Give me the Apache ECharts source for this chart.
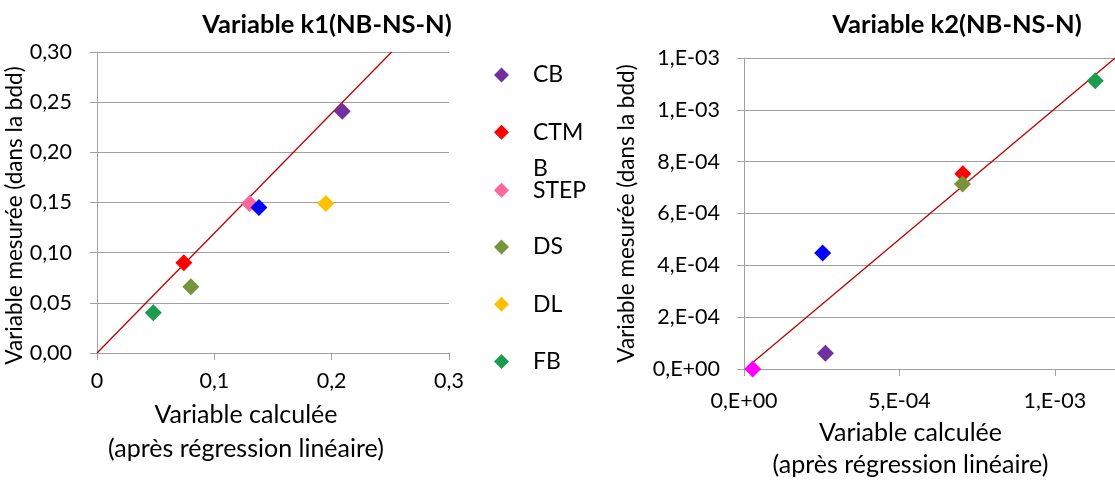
<!DOCTYPE html>
<html>
<head>
<meta charset="utf-8">
<script src="https://cdn.jsdelivr.net/npm/echarts@6/dist/echarts.min.js"></script>
<style>
  html, body { margin: 0; padding: 0; background: #ffffff; }
  #chart { width: 1115px; height: 484px; }
</style>
</head>
<body>
<div id="chart"></div>
<script>
// Series names shown in the legend
const legendNames = ['CB', 'CTM', 'STEP', 'DS', 'DL', 'FB'];

// Variable k1: [calculated, measured]
const k1CB   = [[0.209, 0.241]];
const k1CTM  = [[0.074, 0.090]];
const k1STEP = [[0.130, 0.149]];
const k1S7   = [[0.138, 0.145]];
const k1DS   = [[0.080, 0.066]];
const k1DL   = [[0.195, 0.149]];
const k1FB   = [[0.048, 0.040]];
const k1Trend = [[0, 0], [0.2511, 0.30]];

// Variable k2: [calculated, measured]
const k2CB  = [[2.62e-4, 6.1e-5]];
const k2CTM = [[7.04e-4, 7.53e-4]];
const k2DS  = [[7.03e-4, 7.14e-4]];
const k2FB  = [[1.13e-3, 1.112e-3]];
const k2S7  = [[2.53e-4, 4.48e-4]];
const k2S8  = [[2.8e-5, 0]];
const k2Trend = [[3.0e-5, 2.7e-5], [1.194e-3, 1.2e-3]];

// Tick labels
const k1XTicks = ['0', '0,1', '0,2', '0,3'];
const k1YTicks = ['0,00', '0,05', '0,10', '0,15', '0,20', '0,25', '0,30'];
const k2XTicks = ['0,E+00', '5,E-04', '1,E-03'];
const k2YTicks = ['0,E+00', '2,E-04', '4,E-04', '6,E-04', '8,E-04', '1,E-03', '1,E-03'];

const colors = {
  'CB': '#7030a0', 'CTM': '#ff0000', 'STEP': '#ff6699', 'DS': '#77933c',
  'DL': '#ffc000', 'FB': '#1b9c4f', 'Série 7': '#0000ff', 'Série 8': '#ff00ff'
};

const FONT = 'Lato';
const gray = '#a0a0a0';
const axisTitleX = 'Variable calculée\n(après régression linéaire)';
const axisTitleY = 'Variable mesurée (dans la bdd)';

function valueAxis(labels, extra, labelExtra) {
  return Object.assign({
    type: 'value',
    axisLine: { show: true, lineStyle: { color: gray, width: 1 } },
    axisTick: { show: true, length: 7, lineStyle: { color: gray } },
    axisLabel: Object.assign({
      color: '#000', fontFamily: FONT, fontSize: 21.5,
      formatter: (v, i) => labels[i] !== undefined ? labels[i] : ''
    }, labelExtra),
    splitLine: { show: false }
  }, extra);
}

function scatter(name, data, grid) {
  return {
    type: 'scatter', name: name, data: data,
    xAxisIndex: grid, yAxisIndex: grid,
    symbol: 'diamond', symbolSize: 17,
    itemStyle: { color: colors[name], opacity: 1 },
    z: 3
  };
}

function trend(data, grid) {
  return {
    type: 'line', data: data, xAxisIndex: grid, yAxisIndex: grid,
    symbol: 'none', silent: true,
    lineStyle: { color: '#c00000', width: 1.3 },
    z: 2
  };
}

// One legend block per entry, stacked down the middle column
const legendStep = 57.3;
const legendFirst = 75;
const legends = legendNames.map((name, i) => {
  const center = legendFirst + i * legendStep;
  const twoLine = name === 'STEP';
  return {
    orient: 'vertical', left: 489,
    top: twoLine ? center - 5 - 32.4 : center - 5 - 15,
    itemWidth: 15, itemHeight: 15, icon: 'diamond',
    selectedMode: false,
    data: [name],
    formatter: twoLine ? '{b|B}\n{t|STEP}\n{b| }' : '{name}',
    textStyle: {
      color: '#000', fontFamily: FONT, fontSize: 23, lineHeight: 30,
      padding: [0, 0, 0, 19],
      rich: {
        b: { color: '#000', fontFamily: FONT, fontSize: 23, lineHeight: 21.6 },
        t: { color: '#000', fontFamily: FONT, fontSize: 23, lineHeight: 21.6 }
      }
    }
  };
});

const option = {
  animation: false,
  backgroundColor: '#ffffff',
  textStyle: { fontFamily: FONT },
  title: [
    { text: 'Variable k1(NB-NS-N)', left: 322, top: 7, textAlign: 'center',
      textStyle: { fontFamily: FONT, fontWeight: 'bold', fontSize: 25.5, color: '#000' } },
    { text: 'Variable k2(NB-NS-N)', left: 952, top: 7, textAlign: 'center',
      textStyle: { fontFamily: FONT, fontWeight: 'bold', fontSize: 25.5, color: '#000' } }
  ],
  legend: legends,
  grid: [
    { left: 97, top: 52, width: 352, height: 301, outerBoundsMode: 'none', containLabel: false },
    { left: 744, top: 58, width: 373, height: 311, outerBoundsMode: 'none', containLabel: false }
  ],
  xAxis: [
    valueAxis(k1XTicks, {
      gridIndex: 0, min: 0, max: 0.3, interval: 0.1,
      name: axisTitleX, nameLocation: 'middle', nameGap: 45,
      nameTextStyle: { color: '#000', fontFamily: FONT, fontSize: 25, lineHeight: 34, padding: [0, 54, 0, 0] }
    }, { margin: 17 }),
    valueAxis(k2XTicks, {
      gridIndex: 1, min: 0, max: 1.2e-3, interval: 5e-4,
      name: axisTitleX, nameLocation: 'middle', nameGap: 48,
      nameTextStyle: { color: '#000', fontFamily: FONT, fontSize: 25, lineHeight: 32, padding: [0, 40, 0, 0] }
    }, { margin: 21, showMaxLabel: false })
  ],
  yAxis: [
    valueAxis(k1YTicks, {
      gridIndex: 0, min: 0, max: 0.3, interval: 0.05,
      name: axisTitleY, nameLocation: 'middle', nameGap: 60,
      nameTextStyle: { color: '#000', fontFamily: FONT, fontSize: 22.5, padding: [0, 26, 0, 0] },
      splitLine: { show: true, lineStyle: { color: gray, width: 1 } }
    }, { margin: 25 }),
    valueAxis(k2YTicks, {
      gridIndex: 1, min: 0, max: 1.2e-3, interval: 2e-4,
      name: axisTitleY, nameLocation: 'middle', nameGap: 106,
      nameTextStyle: { color: '#000', fontFamily: FONT, fontSize: 22.5 },
      splitLine: { show: true, lineStyle: { color: gray, width: 1 } }
    }, { margin: 24 })
  ],
  series: [
    trend(k1Trend, 0),
    scatter('CB', k1CB, 0),
    scatter('CTM', k1CTM, 0),
    scatter('STEP', k1STEP, 0),
    scatter('Série 7', k1S7, 0),
    scatter('DS', k1DS, 0),
    scatter('DL', k1DL, 0),
    scatter('FB', k1FB, 0),
    trend(k2Trend, 1),
    scatter('CB', k2CB, 1),
    scatter('CTM', k2CTM, 1),
    scatter('DS', k2DS, 1),
    scatter('FB', k2FB, 1),
    scatter('Série 7', k2S7, 1),
    scatter('Série 8', k2S8, 1)
  ]
};

const chart = echarts.init(document.getElementById('chart'), null, { renderer: 'canvas' });
chart.setOption(option);
</script>
</body>
</html>
